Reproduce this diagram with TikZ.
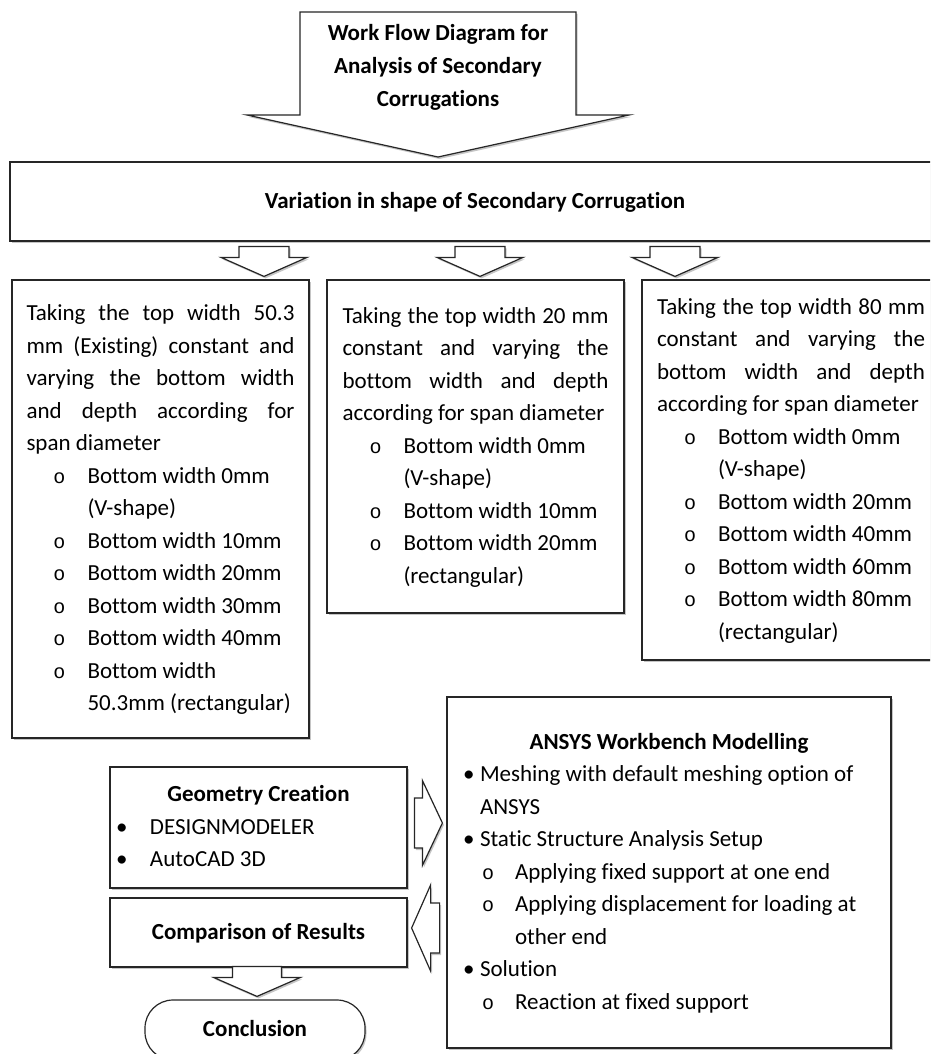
\documentclass[tikz,border=0pt]{standalone}
\usepackage{fontspec}
\setmainfont{Carlito}[Ligatures={NoCommon}]
\newfontfamily\monof{Liberation Mono}
\usetikzlibrary{shadows}
\newcommand\jl[1]{\makebox[\linewidth][s]{\spaceskip=0pt\xspaceskip=0pt\relax #1}\\}
\newcommand\itm{\hspace*{27pt}\makebox[34pt][l]{\monof\fontsize{20}{20}\selectfont o}}
\newcommand\cnt{\hspace*{61pt}}
\newcommand\bula{\hspace*{2pt}\makebox[17pt][l]{\textbullet}}
\newcommand\suba{\hspace*{21pt}\makebox[33pt][l]{\monof\fontsize{20}{20}\selectfont o}}
\newcommand\gbul{\hspace*{2pt}\makebox[34pt][l]{\textbullet}}
\tikzset{
  shad/.style={drop shadow={shadow xshift=1.5pt,shadow yshift=-2pt,fill=black!45}},
  box/.style={draw=black!85, line width=1.2pt, fill=white, inner sep=0pt, align=left,
    font=\fontsize{23}{32.5}\selectfont, shad,
    execute at begin node={\spaceskip=0pt\xspaceskip=0pt\relax\hyphenpenalty=10000\strut},
    execute at end node=\strut},
  boldbox/.style={box, align=center, font=\fontsize{23}{32.5}\selectfont\bfseries},
  barrow/.style={draw=black!85, line width=1.2pt, fill=white, line join=miter, shad},
  ttl/.style={align=center, inner sep=0pt, font=\fontsize{23}{33}\selectfont\bfseries,
    execute at begin node={\spaceskip=0pt\xspaceskip=0pt\relax}}
}
\begin{document}
\begin{tikzpicture}[x=1pt,y=-1pt]
\useasboundingbox (0,0) rectangle (930,1054);
\clip (0,0) rectangle (930,1054);

% title callout
\filldraw[barrow] (300,12) -- (576,12) -- (576,115) -- (629,115) -- (438,157) -- (247,115) -- (300,115) -- cycle;
\node[ttl] (title) at (438,67) {Work Flow Diagram for\\Analysis of Secondary\\Corrugations};

% variation box
\node[boldbox, minimum width=930pt, minimum height=79pt] (var) at (475,201.5) {Variation in shape of Secondary Corrugation};

% three option boxes
\node[box, minimum width=297pt, minimum height=458pt, text width=268pt] (left) at (160.5,509) {%
\jl{Taking the top width 50.3}
\jl{mm (Existing) constant and}
\jl{varying the bottom width}
\jl{and depth according for}
span diameter\\
\itm Bottom width 0mm\\
\cnt (V-shape)\\
\itm Bottom width 10mm\\
\itm Bottom width 20mm\\
\itm Bottom width 30mm\\
\itm Bottom width 40mm\\
\itm Bottom width\\
\cnt 50.3mm (rectangular)};

\node[box, minimum width=297pt, minimum height=333pt, text width=266pt] (mid) at (475.5,446.5) {%
\jl{Taking the top width 20 mm}
\jl{constant and varying the}
\jl{bottom width and depth}
according for span diameter\\
\itm Bottom width 0mm\\
\cnt (V-shape)\\
\itm Bottom width 10mm\\
\itm Bottom width 20mm\\
\cnt (rectangular)};

\node[box, minimum width=298pt, minimum height=380pt, text width=268pt] (right) at (791,470) {%
\jl{Taking the top width 80 mm}
\jl{constant and varying the}
\jl{bottom width and depth}
according for span diameter\\
\itm Bottom width 0mm\\
\cnt (V-shape)\\
\itm Bottom width 20mm\\
\itm Bottom width 40mm\\
\itm Bottom width 60mm\\
\itm Bottom width 80mm\\
\cnt (rectangular)};

% arrows from variation box
\coordinate (t1) at ([xshift=103.5pt,yshift=3pt]left.north);
\coordinate (t2) at ([xshift=4.5pt,yshift=3pt]mid.north);
\coordinate (t3) at ([xshift=-116pt,yshift=3pt]right.north);
\foreach \t in {t1,t2,t3}
  \filldraw[barrow] (\t) -- ++(43,-19) -- ++(-18,0) -- ++(0,-11) -- ++(-50,0) -- ++(0,11) -- ++(-18,0) -- cycle;

% lower part
\node[box, minimum width=297pt, minimum height=121pt, text width=289pt] (geo) at (258.5,827.5) {%
\makebox[\linewidth]{\bfseries Geometry Creation}\\
\gbul DESIGNMODELER\\
\gbul AutoCAD 3D};

\node[boldbox, minimum width=297pt, minimum height=69pt] (comp) at (258.5,932.5) {Comparison of Results};

\node[boldbox, rounded corners=28pt, minimum width=220pt, minimum height=60pt] (concl) at (255,1030) {Conclusion};

\node[box, minimum width=444pt, minimum height=351pt, text width=416pt] (ansys) at (669,872.5) {%
\makebox[\linewidth]{\bfseries ANSYS Workbench Modelling}\\
\bula Meshing with default meshing option of\\
\hspace*{19pt}ANSYS\\
\bula Static Structure Analysis Setup\\
\suba Applying fixed support at one end\\
\suba Applying displacement for loading at\\
\hspace*{54pt}other end\\
\bula Solution\\
\suba Reaction at fixed support};

% geometry -> ansys
\coordinate (ga) at ([xshift=-4pt,yshift=4.5pt]ansys.west |- geo.east);
\filldraw[barrow] (ga) -- ++(-20,-42.5) -- ++(0,17.5) -- ++(-8,0) -- ++(0,50) -- ++(8,0) -- ++(0,17.5) -- cycle;
% ansys -> comparison
\coordinate (ac) at ([xshift=4pt,yshift=4.5pt]comp.east);
\filldraw[barrow] (ac) -- ++(19,-43) -- ++(0,18) -- ++(9,0) -- ++(0,50) -- ++(-9,0) -- ++(0,18) -- cycle;
% comparison -> conclusion
\coordinate (cc) at ([xshift=2pt,yshift=3pt]concl.north);
\filldraw[barrow] (cc) -- ++(43.5,-19) -- ++(-19,0) -- ++(0,-11) -- ++(-49,0) -- ++(0,11) -- ++(-19,0) -- cycle;
\end{tikzpicture}
\end{document}
